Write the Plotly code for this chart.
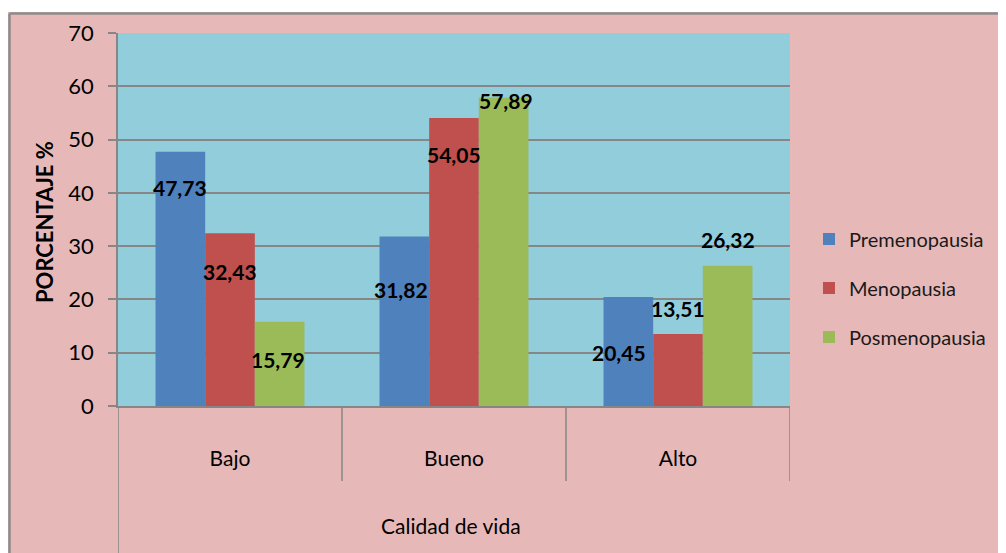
import plotly.graph_objects as go

categories = ["Bajo", "Bueno", "Alto"]
series_names = ["Premenopausia", "Menopausia", "Posmenopausia"]
premenopausia = [47.73, 31.82, 20.45]
menopausia = [32.43, 54.05, 13.51]
posmenopausia = [15.79, 57.89, 26.32]
series_values = [premenopausia, menopausia, posmenopausia]
y_ticks = [0, 10, 20, 30, 40, 50, 60, 70]

colors = ["#4F81BD", "#C0504D", "#9BBB59"]
# label placement tweaks (pixels) to mimic the hand-placed Excel labels
label_dy = [[36, 53, 55], [38, 37, -26], [38, 3, -26]]
label_dx = [[0, -3, -9], [0, 0, 0], [-2, 2, 0]]

FONT = "Lato"
W, H = 1006, 553
OFF = 8  # page body margin
# plot area in screen pixels
SX0, SX1, SY0, SY1 = 118, 790, 33, 406
L = SX0 - OFF
T = SY0 - OFF
R = W - (SX1 - OFF)
B = H - (SY1 - OFF)
plot_w = SX1 - SX0
plot_h = SY1 - SY0

px = lambda p: (p - SX0) / plot_w
py = lambda p: (SY1 - p) / plot_h

bargap = 0.335
bw = (1 - bargap) / 3

fig = go.Figure()
for j, (name, vals) in enumerate(zip(series_names, series_values)):
    fig.add_trace(go.Bar(
        x=list(range(len(categories))), y=vals, name=name,
        marker=dict(color=colors[j], line=dict(width=0)),
        legendgroup=name, hoverinfo="y",
    ))

fmt = lambda v: f"{v:.2f}".replace(".", ",")
annotations = []
for j, vals in enumerate(series_values):
    for i, v in enumerate(vals):
        annotations.append(dict(
            x=i + (j - 1) * bw, y=v, xref="x", yref="y",
            text=f"<b>{fmt(v)}</b>", showarrow=False,
            yanchor="middle", xanchor="center",
            yshift=-label_dy[j][i], xshift=label_dx[j][i],
            font=dict(family=FONT, size=21, color="#000000"),
        ))

annotations.append(dict(
    x=px(451), y=py(525), xref="paper", yref="paper",
    text="Calidad de vida", showarrow=False, yanchor="middle",
    font=dict(family=FONT, size=21, color="#000000"),
))
annotations.append(dict(
    x=px(44), y=py(222), xref="paper", yref="paper",
    text="<b>PORCENTAJE %</b>", textangle=-90, showarrow=False,
    xanchor="center", yanchor="middle",
    font=dict(family=FONT, size=22, color="#000000"),
))

shapes = []
grey = "#868686"
# category divider lines
for k, xv in enumerate([-0.5, 0.5, 1.5, 2.5]):
    yb = py(560) if k == 0 else py(481)
    shapes.append(dict(type="line", xref="x", yref="paper", x0=xv, x1=xv,
                       y0=0, y1=yb, line=dict(color=grey, width=1.5)))
# white outer margin and chart border
shapes.append(dict(type="rect", xref="paper", yref="paper", x0=px(-20), x1=px(W + 20),
                   y0=py(12), y1=py(-20), fillcolor="white", line=dict(width=0), layer="above"))
shapes.append(dict(type="rect", xref="paper", yref="paper", x0=px(-20), x1=px(8),
                   y0=py(H + 20), y1=py(-20), fillcolor="white", line=dict(width=0), layer="above"))
shapes.append(dict(type="line", xref="paper", yref="paper", x0=px(9.5), x1=px(W + 20),
                   y0=py(13.5), y1=py(13.5), line=dict(color="#8C8C8C", width=2.5)))
shapes.append(dict(type="line", xref="paper", yref="paper", x0=px(9.5), x1=px(9.5),
                   y0=py(13.5), y1=py(H + 20), line=dict(color="#8C8C8C", width=2.5)))

fig.update_layout(
    width=W, height=H,
    margin=dict(l=L, r=R, t=T, b=B, pad=0, autoexpand=False),
    paper_bgcolor="#E6B9B8", plot_bgcolor="#92CDDC",
    barmode="group", bargap=bargap, bargroupgap=0,
    font=dict(family=FONT, size=20, color="#000000"),
    showlegend=True,
    legend=dict(x=px(809), xanchor="left", y=py(288), yanchor="middle",
                bgcolor="rgba(0,0,0,0)", font=dict(family=FONT, size=20, color="#1a1a1a"),
                tracegroupgap=20, traceorder="grouped", itemwidth=30),
    xaxis=dict(range=[-0.5, 2.5], tickmode="array",
               tickvals=list(range(len(categories))), ticktext=categories,
               showgrid=False, zeroline=False, showline=True, linecolor=grey, linewidth=1.5,
               ticks="", ticklabelstandoff=33, tickfont=dict(family=FONT, size=21, color="#000000")),
    yaxis=dict(range=[0, 70], tickmode="array", tickvals=y_ticks,
               showgrid=True, gridcolor=grey, gridwidth=1.5, zeroline=False,
               showline=True, linecolor=grey, linewidth=1.5,
               ticks="outside", ticklen=8, tickcolor=grey, tickwidth=1.5,
               ticklabelstandoff=10, tickfont=dict(family=FONT, size=22, color="#000000")),
    annotations=annotations, shapes=shapes,
)

fig.write_html("out.html")
